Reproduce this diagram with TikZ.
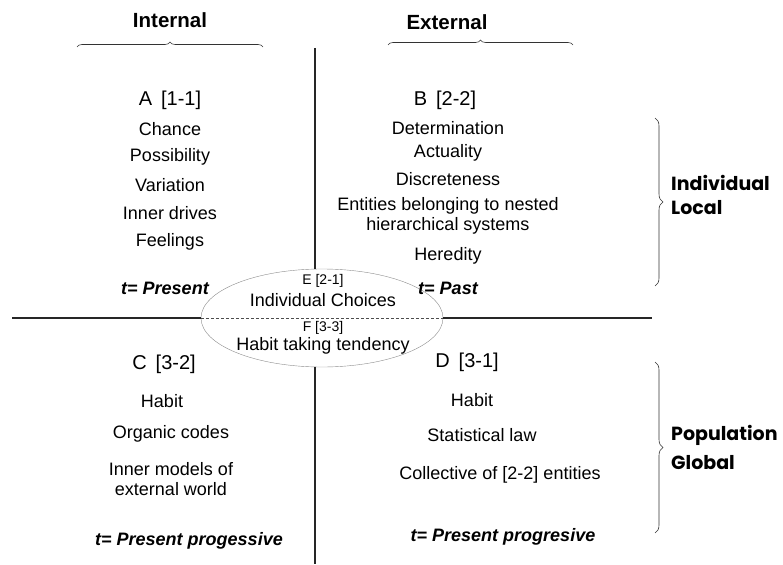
\documentclass[tikz,border=0pt]{standalone}
\usepackage{fontspec}
\setmainfont{Liberation Sans}
\newfontfamily\geofont{Poppins}
\usetikzlibrary{shapes, decorations.pathreplacing, positioning}

\tikzset{
  item/.style={inner sep=0, align=center, font=\fontsize{18}{19.5}\selectfont},
  quad/.style={inner sep=0, font=\fontsize{20}{22}\selectfont},
  tense/.style={inner sep=0, font=\fontsize{18}{20}\selectfont\bfseries\itshape},
  axis/.style={inner sep=0, font=\fontsize{20.5}{22}\selectfont\bfseries},
  sidehead/.style={inner sep=0, anchor=west, align=left, font=\fontsize{19}{24}\selectfont\geofont\bfseries},
  brace/.style={decorate, decoration={brace, amplitude=#1}, draw=black!80, semithick},
}

\begin{document}
\begin{tikzpicture}[x=1pt,y=-1pt]
  \useasboundingbox (0,0) rectangle (783,564);

  % column heads
  \node[axis] (int) at (170,20) {Internal};
  \node[axis] (ext) at (447,22) {External};
  \draw[brace=5pt] (77,47) -- (263,47);
  \draw[brace=5pt] (388,45) -- (573,45);

  % row heads
  \draw[brace=8pt] (655,118) -- (655,286);
  \draw[brace=8pt] (655,362) -- (655,533);
  \node[sidehead] (ind) at (671,195) {Individual\\Local};
  \node[sidehead] (pop) at (671,447) {Population\\[5pt]Global};

  % centre
  \node[draw=black!45, ellipse, minimum width=242, minimum height=98, inner sep=0] (ell) at (322,318) {};
  \coordinate (vt) at (315,48);
  \coordinate (vb) at (315,564);
  \coordinate (hl) at (12,318);
  \coordinate (hr) at (652,318);
  \begin{scope}[every path/.style={draw=black!85, line width=1.2pt}]
    \path (vt) -- (ell.north -| vt);
    \path (ell.south -| vb) -- (vb);
    \path (hl) -- (ell.west);
    \path (ell.east) -- (hr);
  \end{scope}
  \draw[densely dashed, black!70, thin] (ell.west) -- (ell.east);
  \node[inner sep=0, font=\fontsize{14}{16}\selectfont] (e) at (323,281) {E [2-1]};
  \node[item] (ech) at (323,300) {Individual Choices};
  \node[inner sep=0, font=\fontsize{14}{16}\selectfont] (f) at (323,328) {F [3-3]};
  \node[item] (fht) at (323,346) {Habit taking tendency};

  % A
  \node[quad] (a) at (170,100) {A\hspace{0.45em}[1-1]};
  \node[item] (a1) at (170,129) {Chance};
  \node[item] (a2) at (170,157) {Possibility};
  \node[item] (a3) at (170,185) {Variation};
  \node[item] (a4) at (170,213) {Inner drives};
  \node[item] (a5) at (170,242) {Feelings};
  \node[tense] (ta) at (165,288) {t= Present};

  % B
  \node[quad] (b) at (445,100) {B\hspace{0.45em}[2-2]};
  \node[item] (b1) at (448,128) {Determination};
  \node[item] (b2) at (448,153) {Actuality};
  \node[item] (b3) at (448,179) {Discreteness};
  \node[item] (b4) at (448,216) {Entities belonging to nested\\hierarchical systems};
  \node[item] (b5) at (448,256) {Heredity};
  \node[tense] (tb) at (448,288) {t= Past};

  % C
  \node[quad] (c) at (164,364) {C\hspace{0.45em}[3-2]};
  \node[item] (c1) at (162,401) {Habit};
  \node[item] (c2) at (171,434) {Organic codes};
  \node[item] (c3) at (171,479) {Inner models of\\external world};
  \node[tense] (tc) at (189,541) {t= Present progessive};

  % D
  \node[quad] (d) at (467,362) {D\hspace{0.45em}[3-1]};
  \node[item] (d1) at (472,400) {Habit};
  \node[item] (d2) at (482,435) {Statistical law};
  \node[item] (d3) at (500,475) {Collective of [2-2] entities};
  \node[tense] (td) at (503,537) {t= Present progresive};
\end{tikzpicture}
\end{document}
